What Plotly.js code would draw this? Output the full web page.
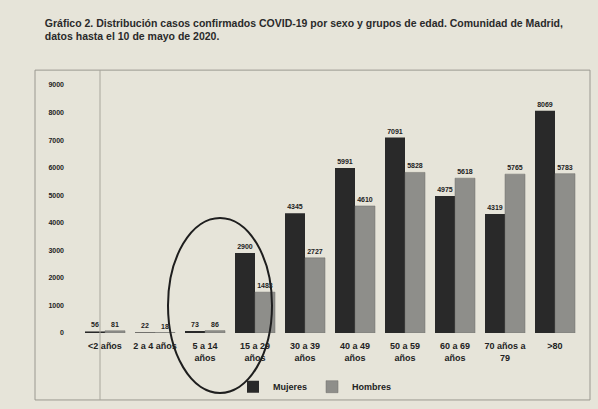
<!DOCTYPE html>
<html><head><meta charset="utf-8">
<script src="https://cdn.plot.ly/plotly-3.0.1.min.js"></script>
<style>html,body{margin:0;padding:0;background:#e6e4d9;}#chart{width:598px;height:409px;}</style>
</head><body><div id="chart"></div>
<script>
const categories = ["<2 años", "2 a 4 años", "5 a 14<br>años", "15 a 29<br>años", "30 a 39<br>años", "40 a 49<br>años", "50 a 59<br>años", "60 a 69<br>años", "70 años a<br>79", ">80"];
const mujeres = [56, 22, 73, 2900, 4345, 5991, 7091, 4975, 4319, 8069];
const hombres = [81, 18, 86, 1483, 2727, 4610, 5828, 5618, 5765, 5783];
const yTicks = [0, 1000, 2000, 3000, 4000, 5000, 6000, 7000, 8000, 9000];
const seriesNames = ["Mujeres", "Hombres"];

const font = "Liberation Sans, Arial, sans-serif";
const common = {
  type: "bar", x: categories, textposition: "outside", cliponaxis: false,
  texttemplate: "%{y}", textfont: {family: font, size: 7, color: "#222", weight: "bold"}
};
const data = [
  Object.assign({}, common, {name: seriesNames[0], y: mujeres, marker: {color: "#292929", line: {width: 0}}}),
  Object.assign({}, common, {name: seriesNames[1], y: hombres, marker: {color: "#8e8e8a", line: {color: "#6f6f6b", width: 0.5}}})
];
const layout = {
  width: 598, height: 409,
  paper_bgcolor: "#e6e4d9", plot_bgcolor: "#e6e4d9",
  margin: {l: 80, r: 18, t: 85, b: 76},
  barmode: "group", bargap: 0.2, bargroupgap: 0,
  showlegend: true,
  legend: {orientation: "h", x: 0.47, xanchor: "center", xref: "paper", yref: "container", y: 0.09, yanchor: "top",
           font: {family: font, size: 9, color: "#222", weight: "bold"}, bgcolor: "rgba(0,0,0,0)",
           itemwidth: 30, tracegroupgap: 0},
  title: {text: "<b>Gráfico 2. Distribución casos confirmados COVID-19 por sexo y grupos de edad. Comunidad de Madrid,<br>datos hasta el 10 de mayo de 2020.</b>",
          x: 0.075, xanchor: "left", y: 0.935, yanchor: "top", font: {family: font, size: 10.5, color: "#2a2a2a"}},
  xaxis: {type: "category", tickfont: {family: font, size: 9, color: "#222", weight: "bold"}, showline: false,
          ticks: "", showgrid: false, ticklabelstandoff: 6},
  yaxis: {range: [0, 9000], tickvals: yTicks, ticktext: yTicks.map(String), showgrid: false, zeroline: false,
          showline: false, tickfont: {family: font, size: 7, color: "#222", weight: "bold"}, ticks: "", ticklabelstandoff: 15},
  font: {family: font, color: "#222"},
  shapes: [
    {type: "rect", xref: "paper", yref: "paper", x0: -0.09, x1: 1.02, y0: -0.27, y1: 1.06, line: {color: "#9a9890", width: 1}},
    {type: "line", xref: "paper", yref: "paper", x0: 0.04, x1: 0.04, y0: -0.27, y1: 1.06, line: {color: "#a8a69c", width: 1}},
    {type: "circle", xref: "paper", yref: "paper", x0: 0.176, x1: 0.384, y0: -0.242, y1: 0.464, line: {color: "#1e1e1e", width: 2}}
  ]
};
Plotly.newPlot("chart", data, layout, {displayModeBar: false, staticPlot: true});
</script></body></html>
